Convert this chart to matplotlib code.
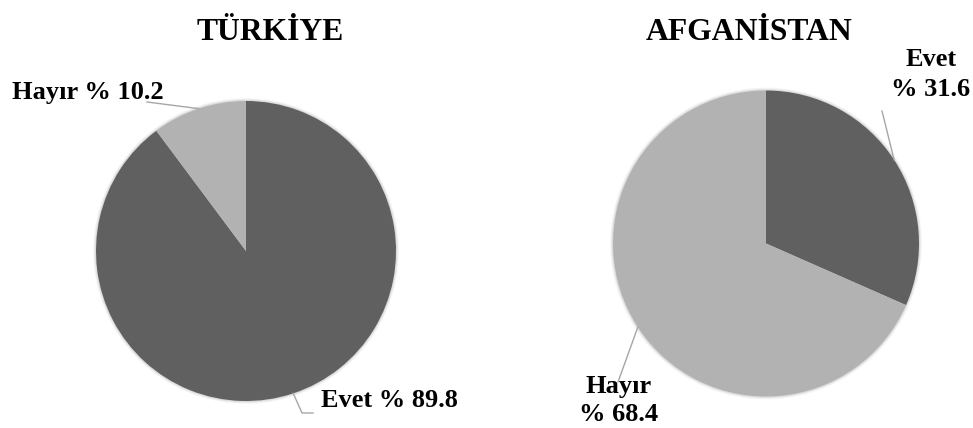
import numpy as np
import matplotlib.pyplot as plt
from matplotlib.patches import Circle

plt.rcParams['font.family'] = ['Liberation Serif', 'DejaVu Serif']
plt.rcParams['font.weight'] = 'bold'

labels = ['Evet', 'Hayır']
turkiye = [89.8, 10.2]
afganistan = [31.6, 68.4]
titles = ['TÜRKİYE', 'AFGANİSTAN']
colors = ['#606060', '#b2b2b2']

W, H = 973, 428
fig = plt.figure(figsize=(W / 100, H / 100), dpi=100)
ax = fig.add_axes([0, 0, 1, 1])


def draw_pie(vals, center, r):
    # soft shadow like the excel original
    for k, a in [(3.0, 0.03), (2.0, 0.05), (1.0, 0.07)]:
        ax.add_patch(Circle(center, r + k, color='black', alpha=a, lw=0))
    wedges, _ = ax.pie(vals, colors=colors, startangle=90, counterclock=False,
                       center=center, radius=r,
                       wedgeprops=dict(linewidth=0))
    return wedges


def edge_point(w):
    ang = np.deg2rad((w.theta1 + w.theta2) / 2)
    return w.center[0] + w.r * np.cos(ang), w.center[1] + w.r * np.sin(ang)


def leader(w, pts):
    x0, y0 = edge_point(w)
    xs = [x0] + [p[0] for p in pts]
    ys = [y0] + [p[1] for p in pts]
    ax.plot(xs, ys, color='#a6a6a6', lw=1.0, zorder=1)


lab_fs = 19
title_fs = 22.8

# left pie
wl = draw_pie(turkiye, (246, H - 251), 150)
ax.text(270, H - 40, titles[0], fontsize=title_fs, ha='center', va='baseline')
leader(wl[1], [(147, H - 102)])
ax.text(12, H - 99, f'{labels[1]} % {turkiye[1]}', fontsize=lab_fs, ha='left', va='baseline')
leader(wl[0], [(302, H - 413), (313, H - 413)])
ax.text(321, H - 407, f'{labels[0]} % {turkiye[0]}', fontsize=lab_fs, ha='left', va='baseline')

# right pie (multi-line labels are anchored at the baseline of the last line)
wr = draw_pie(afganistan, (766, H - 243.5), 153)
ax.text(749, H - 40, titles[1], fontsize=title_fs, ha='center', va='baseline')
leader(wr[0], [(882, H - 111)])
ax.text(931, H - 96, f'{labels[0]}\n% {afganistan[0]}', fontsize=lab_fs,
        ha='center', va='baseline', linespacing=1.4)
leader(wr[1], [(618, H - 382)])
ax.text(619, H - 421, f'{labels[1]}\n% {afganistan[1]}', fontsize=lab_fs,
        ha='center', va='baseline', linespacing=1.25)

ax.set_xlim(0, W)
ax.set_ylim(0, H)
ax.set_aspect('equal')
ax.axis('off')

fig.savefig('out.png', dpi=100)
